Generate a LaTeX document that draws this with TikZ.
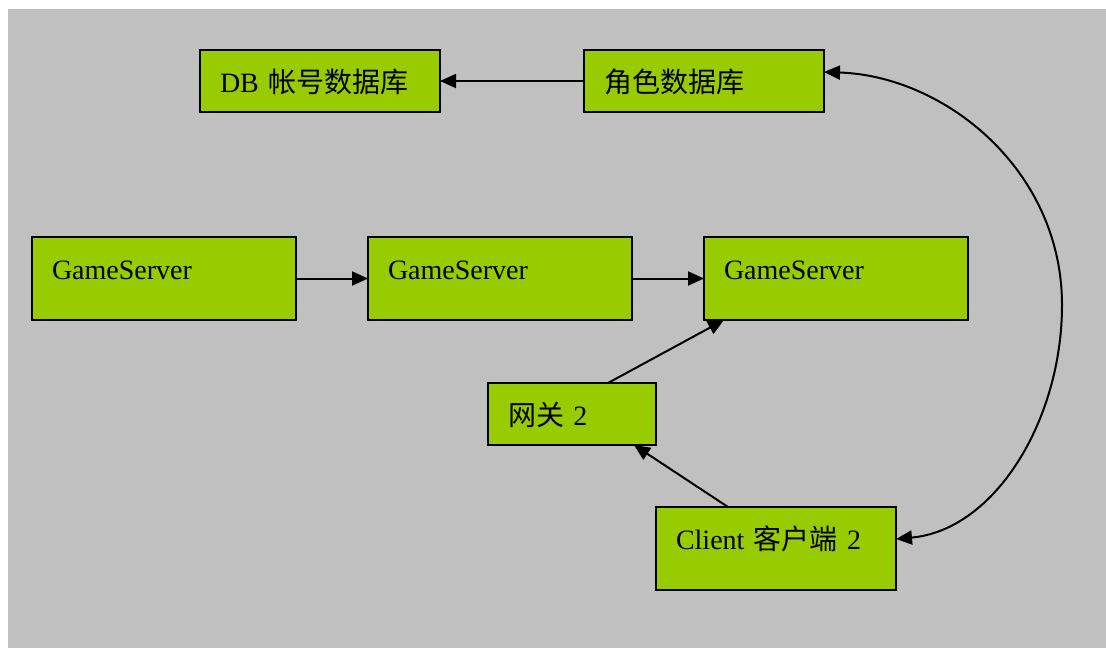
\documentclass[tikz,border=0pt]{standalone}
\usepackage{fontspec}
\setmainfont{Liberation Serif}
\newfontfamily\cjk{Noto Sans CJK SC}
\usepackage{tikz}
\usetikzlibrary{arrows.meta,positioning}

\begin{document}
\begin{tikzpicture}[x=1pt,y=-1pt,line width=2pt,>={Triangle[length=16pt,width=14pt]}]
       \tikzstyle{box}=[draw, fill={rgb,255:red,153;green,204;blue,0}, line width=2pt,
                        outer sep=0pt, align=left, inner xsep=20pt, inner ysep=0pt,
                        text height=42pt, font=\fontsize{28}{34}\selectfont]
       \tikzstyle{low}=[box, text depth=20pt]
       \tikzstyle{high}=[box, text depth=41pt]

       \useasboundingbox (0,0) rectangle (1106,648);
       \fill[fill={rgb,255:red,192;green,192;blue,192}] (8,9) rectangle (1106,648);

       \node[low, text width=200pt, anchor=north west] (db)  at (200,50)  {DB {\cjk 帐号数据库}};
       \node[low, text width=200pt]                    (role) [right=144pt of db] {\cjk 角色数据库};

       \node[high, text width=224pt, anchor=north west] (gs_1) at (32,237) {GameServer};
       \node[high, text width=224pt]                    (gs_2) [right=72pt of gs_1] {GameServer};
       \node[high, text width=224pt]                    (gs_3) [right=72pt of gs_2] {GameServer};

       \node[low, text width=128pt, anchor=north west]  (gw)     at (488,383) {{\cjk 网关} 2};
       \node[high, text width=200pt, anchor=north west] (client) at (656,507) {Client {\cjk 客户端} 2};

       \coordinate (bend) at (1062,305);

       \path[->]
       (role) edge (db)
       (gs_1) edge (gs_2)
       (gs_2) edge (gs_3)
       ([xshift=36pt]gw.north) edge ([xshift=20pt]gs_3.south west)
       ([xshift=72pt]client.north west) edge ([xshift=-22pt]gw.south east);

       \draw[<->] ([yshift=9pt]role.east) .. controls (945,76) and (1062,170) .. (bend)
                  .. controls (1062,420) and (995,530) .. ([yshift=9.5pt]client.east);
     \end{tikzpicture}
\end{document}
